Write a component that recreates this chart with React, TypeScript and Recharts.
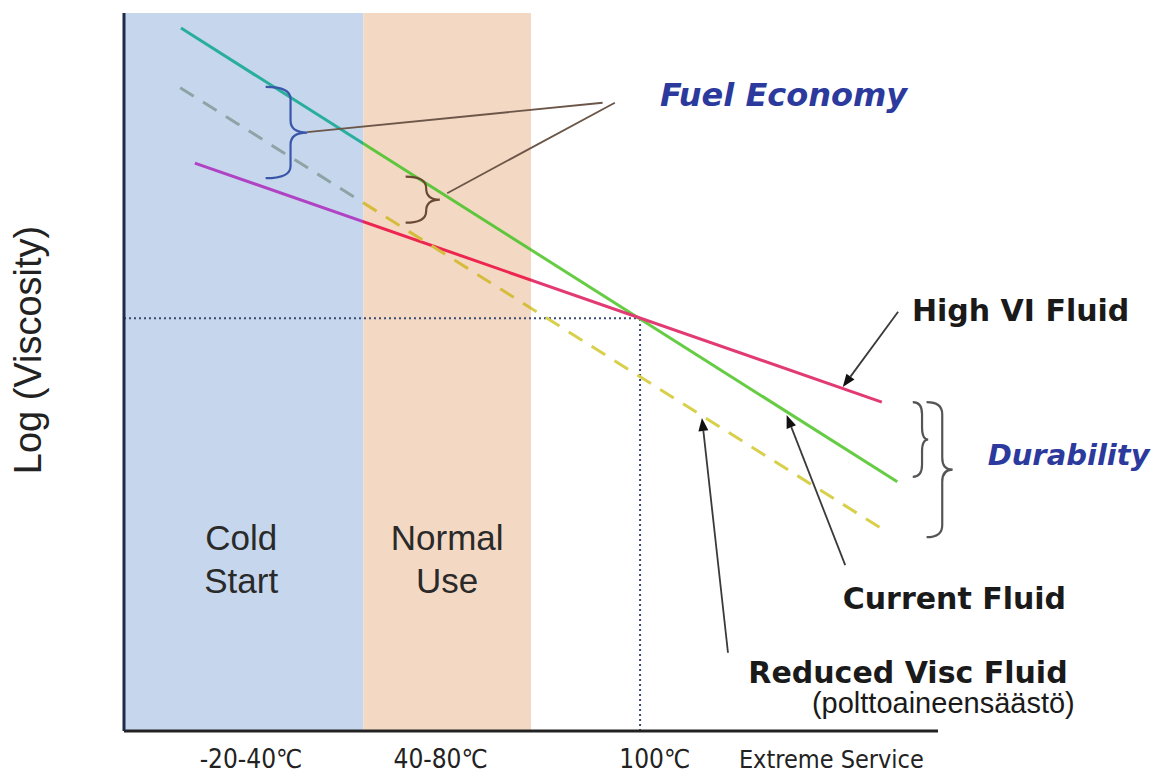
import React from 'react';
import {
  LineChart,
  Line,
  XAxis,
  YAxis,
  ReferenceArea,
  ReferenceLine,
  ReferenceDot,
} from 'recharts';

// temperature zones (x units, 0..100 across the plot)
const COLD_BAND = [0, 29.4];
const NORMAL_BAND = [29.4, 50];

// x-axis tick positions and labels
const TICK_POS = [15.6, 38.9, 65.2, 86.9];
const TICK_LABELS = ['-20-40℃', '40-80℃', '100℃', 'Extreme Service'];

// fluids: log viscosity vs temperature
const CURRENT_X = [7.0, 95.0];
const CURRENT_Y = [97.9, 34.7];
const HIGHVI_X = [8.7, 93.1];
const HIGHVI_Y = [79.1, 45.8];
const REDUCED_X = [6.9, 93.9];
const REDUCED_Y = [89.6, 27.6];

// 100°C reference crossing point
const REF_X = 63.4;
const REF_Y = 57.5;

const toPoints = (xs: number[], ys: number[]) => xs.map((x, i) => ({ x, y: ys[i] }));

const bandStop = (xs: number[], edge: number) =>
  (edge - xs[0]) / (xs[xs.length - 1] - xs[0]);

const SANS = '"Liberation Sans", Arial, sans-serif';
const VERD = '"DejaVu Sans", Verdana, sans-serif';
const NARROW = '"Liberation Sans Narrow", "DejaVu Sans Condensed", "Liberation Sans", sans-serif';

type Note = {
  x: number;
  y: number;
  text: string;
  size: number;
  font: string;
  color: string;
  weight?: string;
  italic?: boolean;
  anchor?: 'start' | 'middle' | 'end';
};

const NOTES: Note[] = [
  { x: 65.85, y: 88.6, text: 'Fuel Economy', size: 32, font: VERD, color: '#2b3a9c', weight: 'bold', italic: true },
  { x: 106.1, y: 38.4, text: 'Durability', size: 29, font: VERD, color: '#2b3a9c', weight: 'bold', italic: true },
  { x: 96.8, y: 58.6, text: 'High VI Fluid', size: 30, font: VERD, color: '#1a1a1a', weight: 'bold' },
  { x: 88.3, y: 18.5, text: 'Current Fluid', size: 30, font: VERD, color: '#1a1a1a', weight: 'bold' },
  { x: 76.7, y: 8.2, text: 'Reduced Visc Fluid', size: 30, font: VERD, color: '#1a1a1a', weight: 'bold' },
  { x: 116.8, y: 3.9, text: '(polttoaineensäästö)', size: 29, font: SANS, color: '#1a1a1a', anchor: 'end' },
  { x: 14.4, y: 27.0, text: 'Cold', size: 35, font: SANS, color: '#2a2a2a', anchor: 'middle' },
  { x: 14.4, y: 21.0, text: 'Start', size: 35, font: SANS, color: '#2a2a2a', anchor: 'middle' },
  { x: 39.7, y: 27.0, text: 'Normal', size: 35, font: SANS, color: '#2a2a2a', anchor: 'middle' },
  { x: 39.7, y: 21.0, text: 'Use', size: 35, font: SANS, color: '#2a2a2a', anchor: 'middle' },
];

// braces: open side x0, tip x1, top and bottom
const BRACES = [
  { x0: 17.4, x1: 22.5, top: 89.7, bottom: 77.0, color: '#3a56a8' },
  { x0: 34.6, x1: 38.8, top: 77.2, bottom: 70.8, color: '#6b4a35' },
  { x0: 96.9, x1: 98.8, top: 45.8, bottom: 35.4, color: '#555555' },
  { x0: 98.6, x1: 101.8, top: 45.8, bottom: 27.0, color: '#555555' },
];

const LEADERS = [
  { from: { x: 58.8, y: 87.5 }, to: { x: 22.5, y: 83.4 } },
  { from: { x: 60.3, y: 87.5 }, to: { x: 39.7, y: 74.9 } },
];

const ARROWS = [
  { from: { x: 95.1, y: 58.4 }, to: { x: 88.3, y: 47.9 } },
  { from: { x: 88.6, y: 23.1 }, to: { x: 81.4, y: 44.0 } },
  { from: { x: 74.2, y: 10.9 }, to: { x: 71.0, y: 43.6 } },
];

function bracePath(xa: number, ya: number, xb: number, yb: number) {
  const top = Math.min(ya, yb);
  const bot = Math.max(ya, yb);
  const xs = xa + (xb - xa) * 0.6;
  const ym = (top + bot) / 2;
  const r = Math.min((bot - top) / 4, 12);
  return `M${xa},${top} Q${xs},${top} ${xs},${top + r} L${xs},${ym - r} Q${xs},${ym} ${xb},${ym} Q${xs},${ym} ${xs},${ym + r} L${xs},${bot - r} Q${xs},${bot} ${xa},${bot}`;
}

const Brace = (color: string) => (p: any) => (
  <path d={bracePath(p.x1, p.y1, p.x2, p.y2)} fill="none" stroke={color} strokeWidth={2.2} />
);

const Arrow = (p: any) => {
  const { x1, y1, x2, y2 } = p;
  const a = Math.atan2(y2 - y1, x2 - x1);
  const len = 13;
  const w = 5;
  const bx = x2 - len * Math.cos(a);
  const by = y2 - len * Math.sin(a);
  const nx = -Math.sin(a) * w;
  const ny = Math.cos(a) * w;
  return (
    <g>
      <line x1={x1} y1={y1} x2={bx} y2={by} stroke="#3a3a3a" strokeWidth={1.8} />
      <polygon points={`${x2},${y2} ${bx + nx},${by + ny} ${bx - nx},${by - ny}`} fill="#111" />
    </g>
  );
};

const Leader = (p: any) => (
  <line x1={p.x1} y1={p.y1} x2={p.x2} y2={p.y2} stroke="#6b5648" strokeWidth={1.8} />
);

const NoteText = (n: Note) => (p: any) => (
  <text
    x={p.cx}
    y={p.cy}
    dominantBaseline="central"
    textAnchor={n.anchor ?? 'start'}
    fontFamily={n.font}
    fontSize={n.size}
    fontWeight={n.weight ?? 'normal'}
    fontStyle={n.italic ? 'italic' : 'normal'}
    fill={n.color}
  >
    {n.text}
  </text>
);

const AxisTick = (props: any) => {
  const { x, y, payload } = props;
  const idx = TICK_POS.indexOf(payload.value);
  const label = TICK_LABELS[idx];
  const isLast = idx === TICK_LABELS.length - 1;
  return (
    <text
      x={x}
      y={y + 29}
      textAnchor="middle"
      fontFamily={NARROW}
      fontSize={isLast ? 25 : 26}
      fill="#222"
    >
      {label}
    </text>
  );
};

const YLabel = (props: any) => {
  const vb = props.viewBox || { x: 0, y: 13, width: 124, height: 718 };
  const cx = vb.x + 28;
  const cy = vb.y + vb.height / 2 - 22;
  return (
    <text
      x={cx}
      y={cy}
      transform={`rotate(-90 ${cx} ${cy})`}
      textAnchor="middle"
      dominantBaseline="central"
      fontFamily={SANS}
      fontSize={38}
      fill="#222"
    >
      Log (Viscosity)
    </text>
  );
};

const SERIES = [
  { id: 'current', xs: CURRENT_X, ys: CURRENT_Y, colors: ['#2aae9c', '#5ec63c', '#66cc44'], dash: undefined },
  { id: 'highvi', xs: HIGHVI_X, ys: HIGHVI_Y, colors: ['#b043c4', '#ec2650', '#e23a72'], dash: undefined },
  { id: 'reduced', xs: REDUCED_X, ys: REDUCED_Y, colors: ['#8ea3a5', '#d6bc3c', '#d8cf4a'], dash: '16 11' },
];

export default function App() {
  return (
    <div style={{ position: 'absolute', left: 0, top: 0, width: 1157, height: 778, background: '#fff' }}>
      <LineChart width={1157} height={778} margin={{ top: 13, right: 219, bottom: 7, left: 0 }}>
        <defs>
          {SERIES.map((s) => {
            const o1 = bandStop(s.xs, COLD_BAND[1]);
            const o2 = bandStop(s.xs, NORMAL_BAND[1]);
            return (
              <linearGradient key={s.id} id={`g-${s.id}`} x1="0" y1="0" x2="1" y2="0">
                <stop offset={o1} stopColor={s.colors[0]} />
                <stop offset={o1} stopColor={s.colors[1]} />
                <stop offset={o2} stopColor={s.colors[1]} />
                <stop offset={o2} stopColor={s.colors[2]} />
              </linearGradient>
            );
          })}
        </defs>
        <XAxis
          type="number"
          dataKey="x"
          domain={[0, 100]}
          ticks={TICK_POS}
          interval={0}
          allowDataOverflow
          height={40}
          tickLine={false}
          tick={<AxisTick />}
          axisLine={{ stroke: '#222', strokeWidth: 3 }}
        />
        <YAxis
          type="number"
          dataKey="y"
          domain={[0, 100]}
          allowDataOverflow
          width={124}
          tick={false}
          tickLine={false}
          axisLine={{ stroke: '#1f2b48', strokeWidth: 3 }}
          label={<YLabel />}
        />
        <ReferenceArea x1={COLD_BAND[0]} x2={COLD_BAND[1]} fill="#c6d7ed" fillOpacity={1} stroke="none" />
        <ReferenceArea x1={NORMAL_BAND[0]} x2={NORMAL_BAND[1]} fill="#f3d8c3" fillOpacity={1} stroke="none" />

        <ReferenceLine
          segment={[{ x: 0, y: REF_Y }, { x: REF_X, y: REF_Y }]}
          stroke="#3a4a70"
          strokeWidth={2}
          strokeDasharray="2 3"
        />
        <ReferenceLine
          segment={[{ x: REF_X, y: 0 }, { x: REF_X, y: REF_Y }]}
          stroke="#3a4a70"
          strokeWidth={2}
          strokeDasharray="2 3"
        />

        {SERIES.map((s) => (
          <Line
            key={s.id}
            data={toPoints(s.xs, s.ys)}
            dataKey="y"
            type="linear"
            stroke={`url(#g-${s.id})`}
            strokeWidth={3}
            strokeDasharray={s.dash}
            dot={false}
            activeDot={false}
            isAnimationActive={false}
          />
        ))}

        {BRACES.map((b, i) => (
          <ReferenceLine
            key={`b${i}`}
            segment={[{ x: b.x0, y: b.top }, { x: b.x1, y: b.bottom }]}
            ifOverflow="visible"
            shape={Brace(b.color)}
          />
        ))}
        {LEADERS.map((l, i) => (
          <ReferenceLine key={`l${i}`} segment={[l.from, l.to]} ifOverflow="visible" shape={Leader} />
        ))}
        {ARROWS.map((a, i) => (
          <ReferenceLine key={`a${i}`} segment={[a.from, a.to]} ifOverflow="visible" shape={Arrow} />
        ))}
        {NOTES.map((n, i) => (
          <ReferenceDot key={`n${i}`} x={n.x} y={n.y} r={0} ifOverflow="visible" shape={NoteText(n)} />
        ))}
      </LineChart>
    </div>
  );
}
